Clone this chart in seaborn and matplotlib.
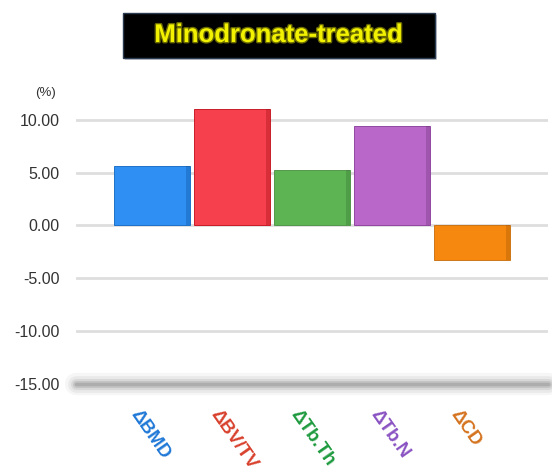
import matplotlib
matplotlib.use("Agg")
import matplotlib.pyplot as plt
import matplotlib.patheffects as pe
from matplotlib.patches import Rectangle
from matplotlib.transforms import ScaledTranslation
import numpy as np
import pandas as pd
import seaborn as sns

# Changes from baseline (%) after minodronate treatment
categories = ["\u0394BMD", "\u0394BV/TV", "\u0394Tb.Th", "\u0394Tb.N", "\u0394CD"]
values = [5.65, 11.0, 5.2, 9.4, -3.3]
bar_colors = ["#2f8ff2", "#f6404d", "#5db452", "#b968c9", "#f7880f"]
label_colors = ["#1f78d6", "#d8402c", "#1e9a3e", "#8a52c2", "#d4731f"]
yticks = [10, 5, 0, -5, -10, -15]
ytick_labels = ["10.00", "5.00", "0.00", "-5.00", "-10.00", "-15.00"]
title = "Minodronate-treated"

sns.set_theme(style="white")
plt.rcParams["font.family"] = ["Liberation Sans", "DejaVu Sans"]

df = pd.DataFrame({"measure": categories, "change": values})

fig = plt.figure(figsize=(5.52, 4.73), dpi=100)
ax = fig.add_axes([76 / 552, 89 / 473, 472 / 552, 278 / 473])

sns.barplot(data=df, x="measure", y="change", hue="measure",
            palette=bar_colors, order=categories, hue_order=categories,
            width=0.94, legend=False, ax=ax, zorder=3, saturation=1)

# subtle darker right edge to give the bars some depth
for patch, col in zip(ax.patches, bar_colors):
    patch.set_edgecolor(sns.set_hls_values(col, l=0.4))
    patch.set_linewidth(0.6)
    x, y = patch.get_x(), patch.get_y()
    w, h = patch.get_width(), patch.get_height()
    ax.add_patch(Rectangle((x + w * 0.95, y), w * 0.05, h,
                           facecolor=sns.set_hls_values(col, l=0.3),
                           alpha=0.3, linewidth=0, zorder=4))

ax.set_xlim(-0.95, 4.95)
ax.set_ylim(-15, 11.3)
ax.set_yticks(yticks)
ax.set_yticklabels(ytick_labels)
for t in yticks[:-1]:
    ax.axhline(t, color="#dedede", lw=2, zorder=1)

# soft shadowed floor line
for lw, a in [(16, 0.06), (12, 0.09), (8, 0.13), (5, 0.18), (2.5, 0.25)]:
    ax.axhline(-15, color="#6a6a6a", lw=lw, alpha=a, zorder=2, clip_on=False)

for s in ax.spines.values():
    s.set_visible(False)
ax.set_xlabel("")
ax.set_ylabel("")
ax.tick_params(axis="y", length=0, pad=12, labelsize=11.5, labelcolor="#333333")
ax.tick_params(axis="x", length=0, pad=2)

ax.set_xticks(range(len(categories)))
ax.set_xticklabels(categories, rotation=-55, ha="left", va="top",
                   rotation_mode="anchor", fontsize=13.5, fontweight="bold")
offset = ScaledTranslation(-11 / 100, -20 / 100, fig.dpi_scale_trans)
for lab, c in zip(ax.get_xticklabels(), label_colors):
    lab.set_color(c)
    lab.set_transform(lab.get_transform() + offset)

fig.text(45 / 552, 1 - 93 / 473, "(%)", ha="center", va="center",
         fontsize=9.5, color="#333333")

# title banner
fig.patches.append(Rectangle((125 / 552, 1 - 60 / 473), 312 / 552, 45 / 473,
                             transform=fig.transFigure, facecolor="#9aa0a8",
                             alpha=0.5, linewidth=0, zorder=0))
fig.patches.append(Rectangle((123 / 552, 1 - 58 / 473), 312 / 552, 45 / 473,
                             transform=fig.transFigure, facecolor="black",
                             edgecolor="#2a3a50", linewidth=1, zorder=1))
fig.text(279 / 552, 1 - 35 / 473, title, ha="center", va="center",
         fontsize=18.5, fontweight="bold", color="#f2f200", zorder=2,
         path_effects=[pe.withStroke(linewidth=2, foreground="#6a6a00")])

fig.savefig("out.png", dpi=100)
